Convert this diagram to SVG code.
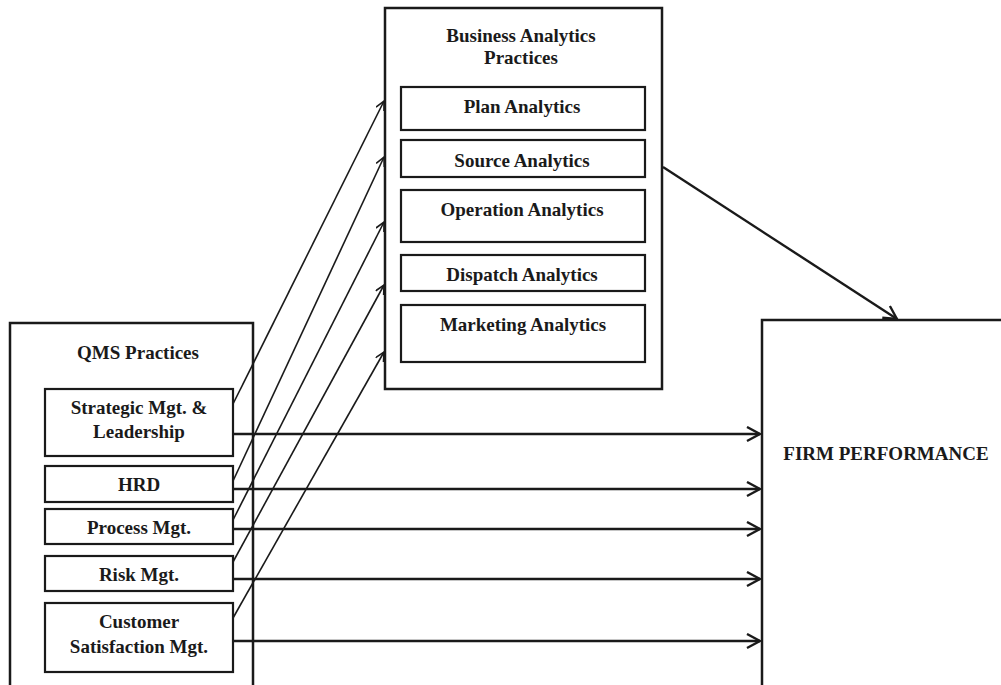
<svg xmlns="http://www.w3.org/2000/svg" width="1001" height="685" viewBox="0 0 1001 685">
  <style>
    .outer { fill: #ffffff; stroke: #1a1a1a; stroke-width: 2.5; }
    .inner { fill: #ffffff; stroke: #1a1a1a; stroke-width: 2.2; }
    .lbl { font-family: "Liberation Serif", "Times New Roman", serif; font-weight: bold; font-size: 19px; fill: #1a1a1a; text-anchor: middle; }
    .thick { stroke: #1a1a1a; stroke-width: 2.4; fill: none; }
    .thin { stroke: #1a1a1a; stroke-width: 1.6; fill: none; }
  </style>
  <defs>
    <marker id="headBig" markerUnits="userSpaceOnUse" markerWidth="16" markerHeight="18" refX="14" refY="8" orient="auto" viewBox="0 0 16 18">
      <path d="M1,1 L14,8 L1,15" fill="none" stroke="#1a1a1a" stroke-width="2.4"/>
    </marker>
    <marker id="headSmall" markerUnits="userSpaceOnUse" markerWidth="12" markerHeight="12" refX="10" refY="5" orient="auto" viewBox="0 0 12 12">
      <path d="M1,0.5 L10,5 L1,9.5" fill="none" stroke="#1a1a1a" stroke-width="1.6"/>
    </marker>
  </defs>

  <rect width="1001" height="685" fill="#ffffff"/>

  <!-- Business analytics practices -->
  <g id="ba-practices">
    <rect class="outer" x="385" y="8" width="277" height="381"/>
    <text class="lbl" x="521" y="42">Business Analytics</text>
    <text class="lbl" x="521" y="64">Practices</text>
  </g>
  <g id="plan-analytics">
    <rect class="inner" x="401" y="87" width="244" height="43"/>
    <text class="lbl" x="522" y="113">Plan Analytics</text>
  </g>
  <g id="source-analytics">
    <rect class="inner" x="401" y="140" width="244" height="37"/>
    <text class="lbl" x="522" y="167">Source Analytics</text>
  </g>
  <g id="operation-analytics">
    <rect class="inner" x="401" y="190" width="244" height="52"/>
    <text class="lbl" x="522" y="216">Operation Analytics</text>
  </g>
  <g id="dispatch-analytics">
    <rect class="inner" x="401" y="255" width="244" height="36"/>
    <text class="lbl" x="522" y="281">Dispatch Analytics</text>
  </g>
  <g id="marketing-analytics">
    <rect class="inner" x="401" y="305" width="244" height="57"/>
    <text class="lbl" x="523" y="331">Marketing Analytics</text>
  </g>

  <!-- QMS practices -->
  <g id="qms-practices">
    <rect class="outer" x="10" y="323" width="243" height="380"/>
    <text class="lbl" x="138" y="359">QMS Practices</text>
  </g>
  <g id="strategic-mgt">
    <rect class="inner" x="45" y="389" width="188" height="67"/>
    <text class="lbl" x="139" y="414">Strategic Mgt. &amp;</text>
    <text class="lbl" x="139" y="438">Leadership</text>
  </g>
  <g id="hrd">
    <rect class="inner" x="45" y="466" width="188" height="36"/>
    <text class="lbl" x="139" y="491">HRD</text>
  </g>
  <g id="process-mgt">
    <rect class="inner" x="45" y="509" width="188" height="35"/>
    <text class="lbl" x="139" y="534">Process Mgt.</text>
  </g>
  <g id="risk-mgt">
    <rect class="inner" x="45" y="556" width="188" height="35"/>
    <text class="lbl" x="139" y="581">Risk Mgt.</text>
  </g>
  <g id="customer-mgt">
    <rect class="inner" x="45" y="603" width="188" height="69"/>
    <text class="lbl" x="139" y="628">Customer</text>
    <text class="lbl" x="139" y="653">Satisfaction Mgt.</text>
  </g>

  <!-- Firm performance -->
  <g id="firm-performance">
    <rect class="outer" x="762" y="320" width="260" height="400"/>
    <text class="lbl" x="886" y="460">FIRM PERFORMANCE</text>
  </g>

  <!-- Connectors -->
  <g id="connectors">
    <line class="thin" x1="233" y1="404" x2="384" y2="101" marker-end="url(#headSmall)"/>
    <line class="thin" x1="233" y1="481" x2="384" y2="157" marker-end="url(#headSmall)"/>
    <line class="thin" x1="233" y1="520" x2="384" y2="222" marker-end="url(#headSmall)"/>
    <line class="thin" x1="233" y1="562" x2="384" y2="285" marker-end="url(#headSmall)"/>
    <line class="thin" x1="233" y1="618" x2="384" y2="352" marker-end="url(#headSmall)"/>

    <line class="thick" x1="233" y1="434" x2="760" y2="434" marker-end="url(#headBig)"/>
    <line class="thick" x1="233" y1="489" x2="760" y2="489" marker-end="url(#headBig)"/>
    <line class="thick" x1="233" y1="529" x2="760" y2="529" marker-end="url(#headBig)"/>
    <line class="thick" x1="233" y1="579" x2="760" y2="579" marker-end="url(#headBig)"/>
    <line class="thick" x1="233" y1="641" x2="760" y2="641" marker-end="url(#headBig)"/>

    <line class="thick" x1="663" y1="167" x2="897" y2="319" marker-end="url(#headBig)"/>
  </g>
</svg>
